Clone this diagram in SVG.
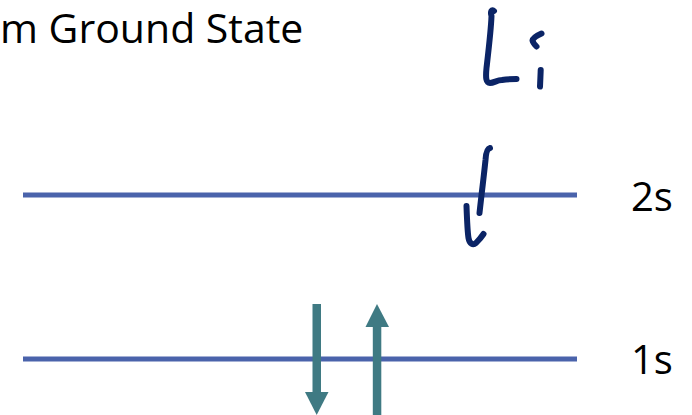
<svg xmlns="http://www.w3.org/2000/svg" width="692" height="415" viewBox="0 0 692 415">
<style>
.lvl{stroke:#4a63ab;stroke-width:5;fill:none}
.lbl{font-family:"Open Sans","Liberation Sans",sans-serif;font-size:40px;fill:#000}
.ink{stroke:#0b2466;stroke-width:6;fill:none;stroke-linecap:round;stroke-linejoin:round}
.spin{fill:#3f7a83}
</style>
<rect width="692" height="415" fill="#fff"/>
<text class="lbl" x="0" y="43" style="font-size:41px">m Ground State</text>
<g id="level-2s">
<line class="lvl" x1="23" y1="195" x2="577" y2="195"/>
<text class="lbl" x="631" y="211">2s</text>
</g>
<g id="level-1s">
<line class="lvl" x1="23" y1="359" x2="577" y2="359"/>
<text class="lbl" x="631" y="374">1s</text>
</g>
<g id="connectors">
<g id="spin-down">
<rect class="spin" x="312.5" y="304" width="8.5" height="89"/>
<polygon class="spin" points="305,392 328.5,392 316.7,415"/>
</g>
<g id="spin-up">
<rect class="spin" x="372.8" y="326" width="8.5" height="89"/>
<polygon class="spin" points="365.5,327 389,327 377,304"/>
</g>
</g>
<g id="handwriting">
<path class="ink" d="M494,11 C492,9 490,11 491.5,16 C491,30 488,55 486.5,68 C485.5,78 486,83 490,83 C494,83 497,80 502,80 C508,79 513,79 516.5,79"/>
<path class="ink" d="M541.5,33.5 C537,35.5 533,38 532.5,40.5 C533,43 535,45 536.5,46.5"/>
<path class="ink" d="M540.7,70 C540.5,76 540.2,82 540,86.5"/>
<path class="ink" d="M490,148 C487.5,148.5 486,152 485.5,160 C484,175 482,190 479.5,213"/>
<path class="ink" d="M466.5,206 C467,220 467.5,232 468.5,238 C469.5,244 473,245.5 476,243 C479,240 481.5,237 483.5,234"/>
</g>
</svg>
